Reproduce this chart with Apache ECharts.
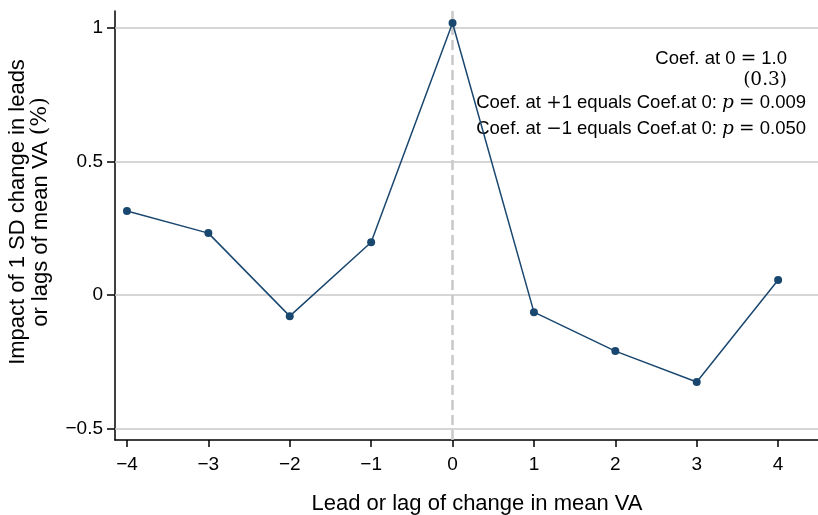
<!DOCTYPE html>
<html>
<head>
<meta charset="utf-8">
<script src="https://cdn.jsdelivr.net/npm/echarts@6/dist/echarts.min.js"></script>
<style>
    html, body { margin: 0; padding: 0; background: #fff; }
    #chart { width: 818px; height: 515px; }
</style>
</head>
<body>
<div id="chart"></div>
<script>
// leads/lags and estimated coefficients
const leadLag = [-4, -3, -2, -1, 0, 1, 2, 3, 4];
const coefs = [0.315, 0.232, -0.079, 0.198, 1.019, -0.064, -0.21, -0.326, 0.056];
const xTicks = [-4, -3, -2, -1, 0, 1, 2, 3, 4];
const yTicks = [-0.5, 0, 0.5, 1];

const font = "'Liberation Sans', Arial, sans-serif";
const mathFont = "'DejaVu Serif', 'Liberation Serif', serif";
const navy = "#1a476f";

const fmt = (v) => String(v).replace("-", "\u2212");

const chart = echarts.init(document.getElementById("chart"));

const mathRich = {
    m: { font: "18.5px " + mathFont },
    i: { font: "italic 18.5px " + mathFont },
};

const option = {
    animation: false,
    grid: { left: 115, right: 0, top: 11, bottom: 75 },
    xAxis: {
        type: "value",
        min: -4.147,
        max: 4.49,
        axisLine: { show: true, onZero: false, lineStyle: { color: "#000", width: 1.5 } },
        axisTick: {
            show: true,
            customValues: xTicks,
            length: 7,
            lineStyle: { color: "#000", width: 1.5 },
        },
        axisLabel: {
            customValues: xTicks,
            formatter: fmt,
            color: "#000",
            fontSize: 19,
            fontFamily: font,
            margin: 15,
        },
        splitLine: { show: false },
    },
    yAxis: {
        type: "value",
        min: -0.543,
        max: 1.064,
        axisLine: { show: true, onZero: false, lineStyle: { color: "#000", width: 1.5 } },
        axisTick: {
            show: true,
            customValues: yTicks,
            length: 8,
            lineStyle: { color: "#000", width: 1.5 },
        },
        axisLabel: {
            customValues: yTicks,
            formatter: fmt,
            color: "#000",
            fontSize: 19,
            fontFamily: font,
            margin: 12,
        },
        splitLine: { show: false },
    },
    series: [
        {
            type: "line",
            data: leadLag.map((x, i) => [x, coefs[i]]),
            symbol: "circle",
            symbolSize: 8,
            itemStyle: { color: navy },
            lineStyle: { color: navy, width: 1.5 },
            z: 5,
            markLine: {
                silent: true,
                symbol: "none",
                label: { show: false },
                data: [
                    ...yTicks.map((v) => ({
                        yAxis: v,
                        lineStyle: { color: "#c8c8c8", type: "solid", width: 1.5 },
                    })),
                    {
                        xAxis: 0,
                        lineStyle: { color: "#c8c8c8", type: [10, 5], width: 2.5 },
                    },
                ],
                z: 1,
            },
        },
    ],
    graphic: [
        {
            type: "text",
            x: 29,
            y: 212,
            rotation: Math.PI / 2,
            style: {
                text: "Impact of 1 SD change in leads\nor lags of mean VA {m|(%)}",
                fill: "#000",
                font: "22px " + font,
                lineHeight: 23,
                align: "center",
                verticalAlign: "middle",
                rich: { m: { font: "22px " + mathFont } },
            },
        },
        {
            type: "text",
            style: {
                text: "Lead or lag of change in mean VA",
                fill: "#000",
                font: "22px " + font,
                align: "center",
                verticalAlign: "middle",
                x: 477,
                y: 504,
            },
        },
        {
            type: "text",
            style: {
                text: "Coef. at 0 {m|=} 1.0",
                fill: "#000",
                font: "18.5px " + font,
                align: "right",
                verticalAlign: "middle",
                x: 787,
                y: 59,
                rich: mathRich,
            },
        },
        {
            type: "text",
            style: {
                text: "(0.3)",
                fill: "#000",
                font: "18.5px " + mathFont,
                align: "right",
                verticalAlign: "middle",
                x: 787,
                y: 80,
            },
        },
        {
            type: "text",
            style: {
                text: "Coef. at {m|+}1 equals Coef.at 0: {i|p} {m|=} 0.009",
                fill: "#000",
                font: "18.5px " + font,
                align: "right",
                verticalAlign: "middle",
                x: 806,
                y: 103,
                rich: mathRich,
            },
        },
        {
            type: "text",
            style: {
                text: "Coef. at {m|\u2212}1 equals Coef.at 0: {i|p} {m|=} 0.050",
                fill: "#000",
                font: "18.5px " + font,
                align: "right",
                verticalAlign: "middle",
                x: 806,
                y: 129,
                rich: mathRich,
            },
        },
    ],
};

chart.setOption(option);
</script>
</body>
</html>
